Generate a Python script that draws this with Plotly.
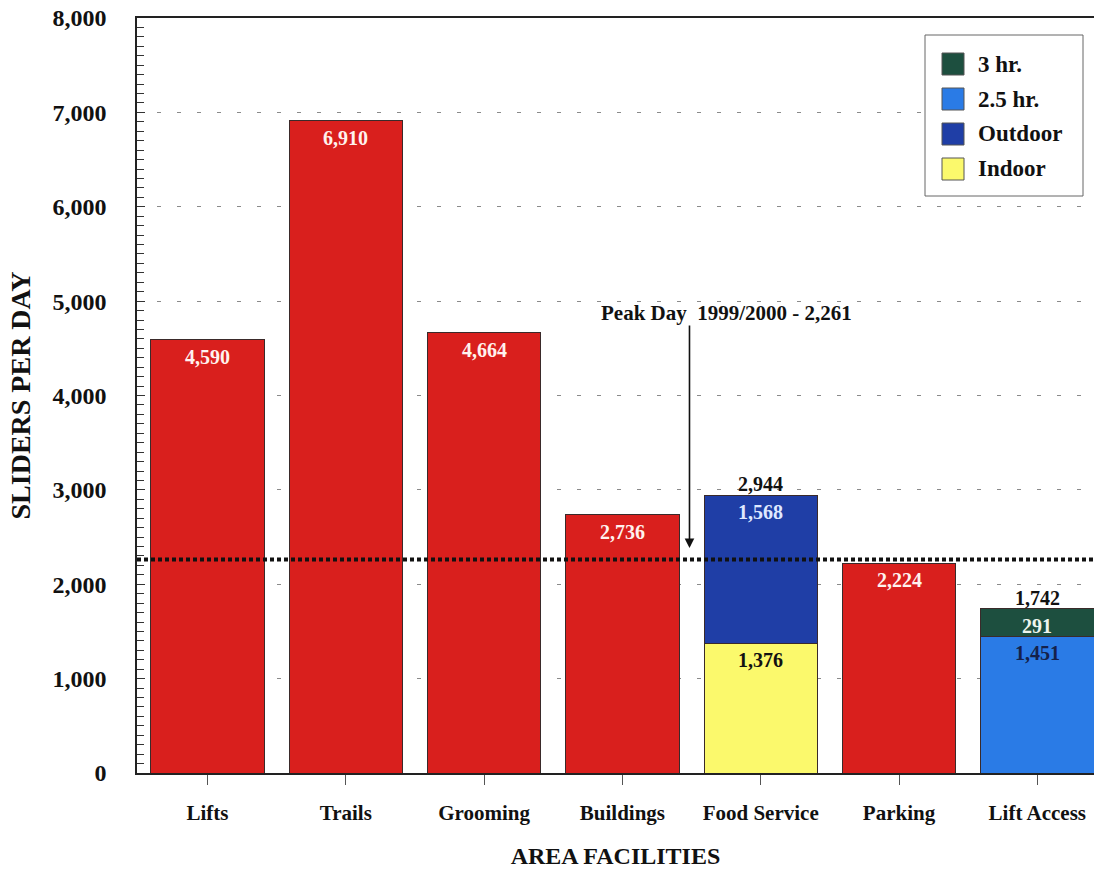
import plotly.graph_objects as go

# Facility capacity (skiers per day)
categories = ["Lifts", "Trails", "Grooming", "Buildings", "Food Service", "Parking", "Lift Access"]
single_cats = ["Lifts", "Trails", "Grooming", "Buildings", "Parking"]
single_vals = [4590, 6910, 4664, 2736, 2224]

food_indoor = 1376
food_outdoor = 1568
access_25hr = 1451
access_3hr = 291

peak_day = 2261

y_ticks = [0, 1000, 2000, 3000, 4000, 5000, 6000, 7000, 8000]

RED = "#d91f1d"
OUTDOOR = "#1f3ea6"
INDOOR = "#fbf96c"
HR25 = "#2a7be6"
HR3 = "#1d4f3f"
EDGE = "#3a2a2a"
SERIF = "Liberation Serif"

W, H = 1094, 869
ML, MR, MT, MB = 137, 0, 18, 96
PW, PH = W - ML - MR, H - MT - MB


def px_x(p):
    return (p - ML) / PW


def px_y(p):
    return 1 - (p - MT) / PH


fig = go.Figure()
fig.add_bar(x=single_cats, y=single_vals, marker=dict(color=RED, line=dict(color=EDGE, width=1)),
            showlegend=False, width=0.82)
fig.add_bar(x=["Food Service"], y=[food_indoor], name="Indoor",
            marker=dict(color=INDOOR, line=dict(color=EDGE, width=1)), width=0.82)
fig.add_bar(x=["Food Service"], y=[food_outdoor], name="Outdoor",
            marker=dict(color=OUTDOOR, line=dict(color=EDGE, width=1)), width=0.82)
fig.add_bar(x=["Lift Access"], y=[access_25hr], name="2.5 hr.",
            marker=dict(color=HR25, line=dict(color=EDGE, width=1)), width=0.82)
fig.add_bar(x=["Lift Access"], y=[access_3hr], name="3 hr.",
            marker=dict(color=HR3, line=dict(color=EDGE, width=1)), width=0.82)

annotations = []


def inside_label(cat, top, value, color):
    annotations.append(dict(x=cat, y=top, text=f"{value:,}", showarrow=False, yanchor="top",
                            yshift=-4, font=dict(family=SERIF, size=20, color=color, weight="bold")))


def total_label(cat, top):
    annotations.append(dict(x=cat, y=top, text=f"{top:,}", showarrow=False, yanchor="bottom",
                            yshift=-2, font=dict(family=SERIF, size=20, color="#111", weight="bold")))


for c, v in zip(single_cats, single_vals):
    inside_label(c, v, v, "#fff2ee")

inside_label("Food Service", food_indoor, food_indoor, "#111")
inside_label("Food Service", food_indoor + food_outdoor, food_outdoor, "#dfe8ff")
total_label("Food Service", food_indoor + food_outdoor)
inside_label("Lift Access", access_25hr, access_25hr, "#15214a")
inside_label("Lift Access", access_25hr + access_3hr, access_3hr, "#eef5ee")
total_label("Lift Access", access_25hr + access_3hr)

# Peak-day callout
annotations.append(dict(x=3.485, y=2384, text="", showarrow=True, ax=0, ay=-224,
                        arrowhead=2, arrowsize=1.2, arrowwidth=1.6, arrowcolor="#111"))
annotations.append(dict(x=3.75, y=4874, text=f"Peak Day  1999/2000 - {peak_day:,}", showarrow=False,
                        font=dict(family=SERIF, size=21, color="#111", weight="bold")))

# Legend box drawn by hand
legend_items = [("3 hr.", HR3), ("2.5 hr.", HR25), ("Outdoor", OUTDOOR), ("Indoor", INDOOR)]
shapes = [dict(type="rect", xref="paper", yref="paper", x0=px_x(925), x1=px_x(1083),
               y0=px_y(196), y1=px_y(35), line=dict(color="#666", width=1), fillcolor="white", layer="above")]
for i, (name, col) in enumerate(legend_items):
    cy = 64 + i * 35
    shapes.append(dict(type="rect", xref="paper", yref="paper", x0=px_x(942), x1=px_x(964),
                       y0=px_y(cy + 11), y1=px_y(cy - 11), fillcolor=col,
                       line=dict(color="#555", width=1), layer="above"))
    annotations.append(dict(xref="paper", yref="paper", x=px_x(976), y=px_y(cy), text=name,
                            showarrow=False, xanchor="left", yanchor="middle",
                            font=dict(family=SERIF, size=23, color="#111", weight="bold")))

# Peak-day reference line
shapes.append(dict(type="line", xref="paper", yref="y", x0=0, x1=1, y0=peak_day, y1=peak_day,
                   line=dict(color="#111", width=4, dash="4px,3px"), layer="above"))

fig.update_layout(
    width=W, height=H,
    margin=dict(l=ML, r=MR, t=MT, b=MB),
    paper_bgcolor="white", plot_bgcolor="white",
    barmode="stack", bargap=0.17,
    showlegend=False,
    annotations=annotations, shapes=shapes,
    font=dict(family=SERIF, color="#111"),
)
fig.update_xaxes(
    categoryorder="array", categoryarray=categories, range=[-0.51, 6.41],
    showline=True, linecolor="#222", linewidth=1.5, mirror=True,
    ticks="outside", ticklen=10, tickcolor="#555",
    tickfont=dict(family=SERIF, size=21, color="#111", weight="bold"),
    ticklabelstandoff=10,
    title=dict(text="AREA FACILITIES", standoff=24,
               font=dict(family=SERIF, size=24, color="#111", weight="bold")),
)
fig.update_yaxes(
    range=[0, 8000], tickvals=y_ticks, tickformat=",d",
    showline=True, linecolor="#222", linewidth=1.5,
    ticks="inside", ticklen=8, tickcolor="#333",
    minor=dict(dtick=100, ticks="inside", ticklen=7, tickcolor="#333", showgrid=False),
    showgrid=True, gridcolor="#8a8a8a", gridwidth=1, griddash="4px,16px",
    zeroline=False,
    tickfont=dict(family=SERIF, size=24, color="#111", weight="bold"),
    ticklabelstandoff=24,
    title=dict(text="SLIDERS PER DAY", standoff=14,
               font=dict(family=SERIF, size=28, color="#111", weight="bold")),
)

fig.write_html("out.html")
